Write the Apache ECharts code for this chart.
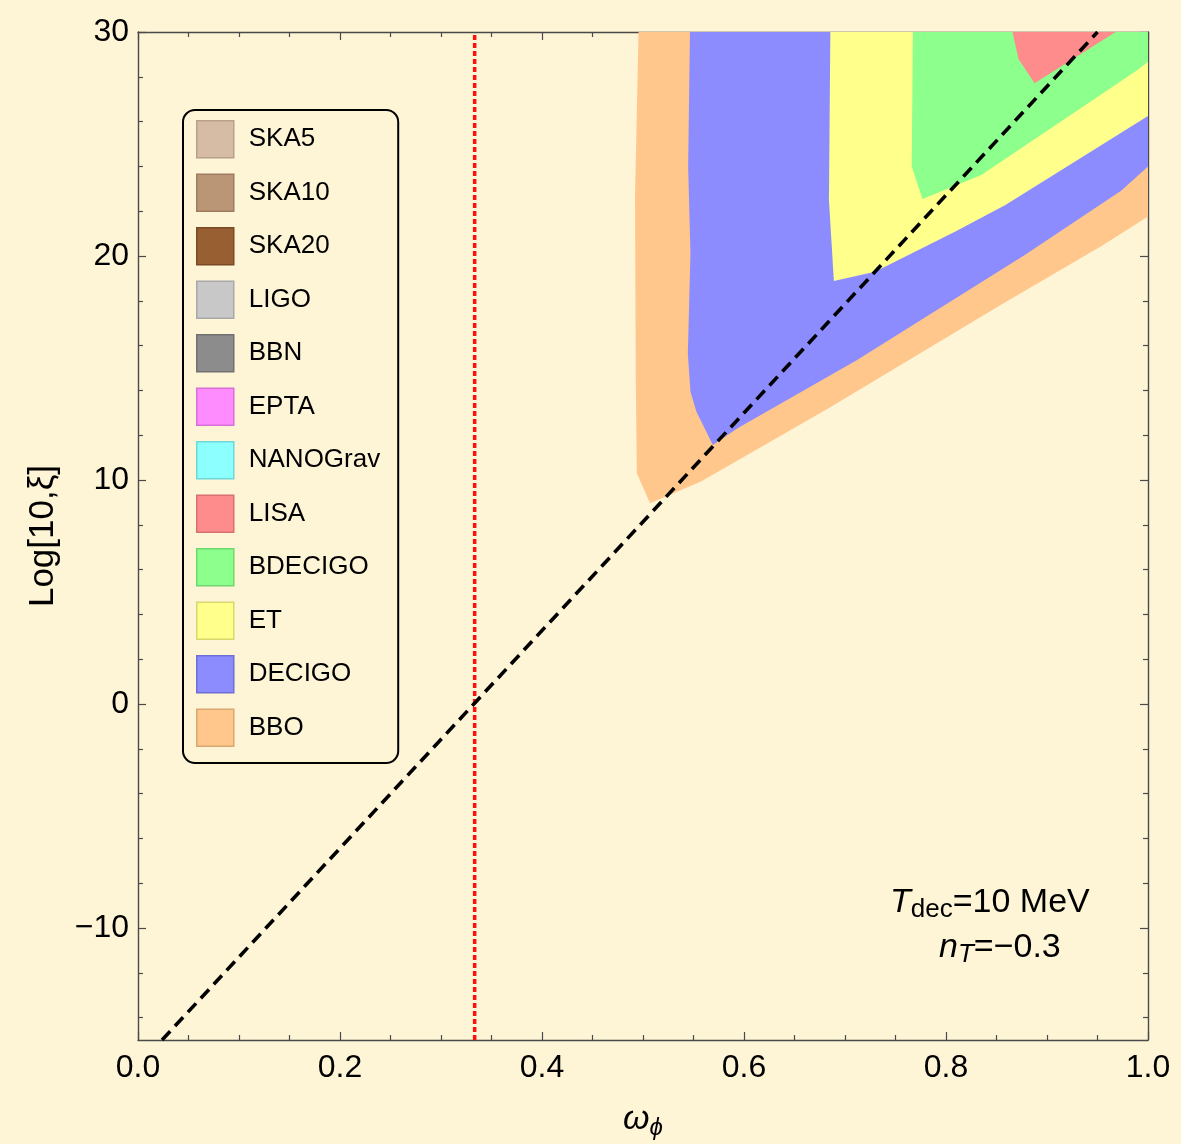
<!DOCTYPE html>
<html>
<head>
<meta charset="utf-8">
<script src="https://cdn.jsdelivr.net/npm/echarts@6/dist/echarts.min.js"></script>
<style>
  html, body { margin: 0; padding: 0; background: #FEF4D6; }
  #chart { width: 1181px; height: 1144px; }
</style>
</head>
<body>
<div id="chart"></div>
<script>
// ---- axis ticks ----
const xMajorTicks = [0, 0.2, 0.4, 0.6, 0.8, 1.0];
const xMinorTicks = [0.05, 0.1, 0.15, 0.25, 0.3, 0.35, 0.45, 0.5, 0.55, 0.65, 0.7, 0.75, 0.85, 0.9, 0.95];
const yMajorTicks = [-10, 0, 10, 20, 30];
const yMinorTicks = [-14, -12, -8, -6, -4, -2, 2, 4, 6, 8, 12, 14, 16, 18, 22, 24, 26, 28];

// ---- detectable regions in the (omega_phi, log10 xi) plane ----
const regionBBO = [[0.4956, 30], [0.4921, 22.65], [0.4928, 14.69], [0.4939, 10.30], [0.507, 8.96],
  [0.5574, 9.93], [0.6837, 13.2], [0.857, 17.89], [0.954, 20.45], [1.0, 21.76], [1.0, 30]];
const regionDECIGO = [[0.5465, 30], [0.5447, 23.99], [0.547, 20.12], [0.5444, 15.66], [0.547, 13.94],
  [0.5529, 13.05], [0.5692, 11.56], [0.5936, 12.31], [0.712, 15.36], [0.878, 20.04], [0.9737, 22.92],
  [1.0, 23.99], [1.0, 30]];
const regionET = [[0.6855, 30], [0.6841, 22.5], [0.689, 18.88], [0.7297, 19.3], [0.8093, 21.09],
  [0.8588, 22.28], [1.0, 26.25], [1.0, 30]];
const regionBDECIGO = [[0.7672, 30], [0.7661, 23.99], [0.7767, 22.54], [0.835, 23.62], [0.9896, 28.30],
  [1.0, 28.67], [1.0, 30]];
const regionLISA = [[0.8658, 30], [0.8719, 28.78], [0.8877, 27.71], [0.968, 30]];

// ---- reference lines ----
const radiationLine = [[1 / 3, -15], [1 / 3, 30]];        // omega_phi = 1/3
const boundaryLine = [[0.0238, -15], [0.950, 30]];       // black dashed boundary

// ---- legend ----
const legendNames = ['SKA5', 'SKA10', 'SKA20', 'LIGO', 'BBN', 'EPTA', 'NANOGrav', 'LISA', 'BDECIGO', 'ET', 'DECIGO', 'BBO'];
const legendFill = ['#D6BCA4', '#BB9676', '#975F32', '#C8C8C8', '#8C8C8C', '#FF8CFF', '#8CFFFF', '#FF8C8C', '#8CFF8C', '#FFFF8C', '#8C8CFF', '#FFC78C'];
const legendEdge = ['#B9A08A', '#9E7C60', '#7A4A24', '#A8A8A8', '#707070', '#D870D8', '#6ED8D8', '#D87070', '#6ED86E', '#D8D86E', '#6E6ED8', '#D8A870'];

const FONT = '"Liberation Sans", Arial, Helvetica, sans-serif';
const AXIS_COLOR = '#4a4a4a';

const regions = [
  ['BBO', regionBBO], ['DECIGO', regionDECIGO], ['ET', regionET], ['BDECIGO', regionBDECIGO], ['LISA', regionLISA]
];

function fillOf(name) { return legendFill[legendNames.indexOf(name)]; }

function regionSeries(name, pts) {
  const color = fillOf(name);
  return {
    name, type: 'custom', xAxisIndex: 0, yAxisIndex: 0,
    data: pts, encode: { x: 0, y: 1 },
    itemStyle: { color }, silent: true, clip: true, z: 2,
    renderItem(params, api) {
      if (params.dataIndex !== 0) return null;
      return {
        type: 'polygon',
        shape: { points: pts.map(p => api.coord(p)) },
        style: { fill: color }
      };
    }
  };
}

const series = [];
regions.forEach(([n, pts]) => series.push(regionSeries(n, pts)));
// experiments listed in the legend without a region in this range
legendNames.filter(n => !regions.some(r => r[0] === n)).forEach(n => {
  series.push({ name: n, type: 'custom', data: [], itemStyle: { color: fillOf(n) }, renderItem: () => null });
});
series.push({
  type: 'line', data: radiationLine, symbol: 'none', silent: true, z: 5,
  lineStyle: { color: '#FF1010', width: 3.5, type: [5, 3] }
});
series.push({
  type: 'line', data: boundaryLine, symbol: 'none', silent: true, z: 6,
  lineStyle: { color: '#000000', width: 3.6, type: [12, 7] }
});

function xAxisDef(position, ticks, len, withLabels, showLine) {
  return {
    type: 'value', position, min: 0, max: 1,
    axisLine: { show: showLine, onZero: false, lineStyle: { color: AXIS_COLOR, width: 1.4 } },
    axisTick: { show: true, inside: true, length: len, customValues: ticks, lineStyle: { color: AXIS_COLOR, width: 1.2 } },
    axisLabel: withLabels ? {
      show: true, customValues: ticks, margin: 12, color: '#000', fontSize: 32, fontFamily: FONT,
      formatter: v => v.toFixed(1)
    } : { show: false },
    splitLine: { show: false }
  };
}
function yAxisDef(position, ticks, len, withLabels, showLine) {
  return {
    type: 'value', position, min: -15, max: 30,
    axisLine: { show: showLine, onZero: false, lineStyle: { color: AXIS_COLOR, width: 1.4 } },
    axisTick: { show: true, inside: true, length: len, customValues: ticks, lineStyle: { color: AXIS_COLOR, width: 1.2 } },
    axisLabel: withLabels ? {
      show: true, customValues: ticks, margin: 9, color: '#000', fontSize: 32, fontFamily: FONT,
      formatter: v => (v < 0 ? '\u2212' + Math.abs(v) : String(v))
    } : { show: false },
    splitLine: { show: false }
  };
}

const xAxes = [
  xAxisDef('bottom', xMajorTicks, 8, true, true),
  xAxisDef('bottom', xMinorTicks, 5, false, false),
  xAxisDef('top', xMajorTicks, 8, false, true),
  xAxisDef('top', xMinorTicks, 5, false, false)
];
Object.assign(xAxes[0], {
  name: '{w|\u03C9}{s|\u03D5}', nameLocation: 'middle', nameGap: 60,
  nameTextStyle: {
    rich: {
      w: { fontFamily: FONT, fontStyle: 'italic', fontSize: 34, lineHeight: 40, color: '#000' },
      s: { fontFamily: FONT, fontStyle: 'italic', fontSize: 24, lineHeight: 24, verticalAlign: 'bottom', color: '#000' }
    }
  }
});
const yAxes = [
  yAxisDef('left', yMajorTicks, 8, true, true),
  yAxisDef('left', yMinorTicks, 5, false, false),
  yAxisDef('right', yMajorTicks, 8, false, true),
  yAxisDef('right', yMinorTicks, 5, false, false)
];
Object.assign(yAxes[0], {
  name: 'Log[10,\u03BE]', nameLocation: 'middle', nameRotate: 90, nameGap: 77,
  nameTextStyle: { fontFamily: FONT, fontSize: 35, color: '#000' }
});

const chart = echarts.init(document.getElementById('chart'), null, { renderer: 'canvas' });
chart.setOption({
  backgroundColor: '#FEF4D6',
  animation: false,
  grid: { left: 138, right: 33, top: 32, bottom: 104, containLabel: false, outerBoundsMode: 'none' },
  xAxis: xAxes,
  yAxis: yAxes,
  legend: {
    orient: 'vertical', left: 183, top: 110,
    itemWidth: 37, itemHeight: 37, itemGap: 15, icon: 'rect',
    padding: [10, 18, 16, 13],
    borderColor: '#000', borderWidth: 2, borderRadius: 12,
    selectedMode: false,
    textStyle: { fontFamily: FONT, fontSize: 26, color: '#000', padding: [0, 0, 0, 10] },
    data: legendNames.map((n, i) => ({
      name: n, itemStyle: { color: legendFill[i], borderColor: legendEdge[i], borderWidth: 1.5 }
    }))
  },
  graphic: [
    {
      type: 'text', x: 890, y: 883, z: 10,
      style: {
        text: '{i|T}{s|dec}{n|=10 MeV}',
        rich: {
          i: { fontFamily: FONT, fontStyle: 'italic', fontSize: 34, lineHeight: 40, fill: '#000' },
          s: { fontFamily: FONT, fontSize: 26, lineHeight: 25, verticalAlign: 'bottom', fill: '#000' },
          n: { fontFamily: FONT, fontSize: 34, lineHeight: 40, fill: '#000' }
        }
      }
    },
    {
      type: 'text', x: 939, y: 928, z: 10,
      style: {
        text: '{i|n}{s|T}{n|=\u22120.3}',
        rich: {
          i: { fontFamily: FONT, fontStyle: 'italic', fontSize: 34, lineHeight: 40, fill: '#000' },
          s: { fontFamily: FONT, fontStyle: 'italic', fontSize: 26, lineHeight: 25, verticalAlign: 'bottom', fill: '#000' },
          n: { fontFamily: FONT, fontSize: 34, lineHeight: 40, fill: '#000' }
        }
      }
    }
  ],
  series
});
</script>
</body>
</html>
